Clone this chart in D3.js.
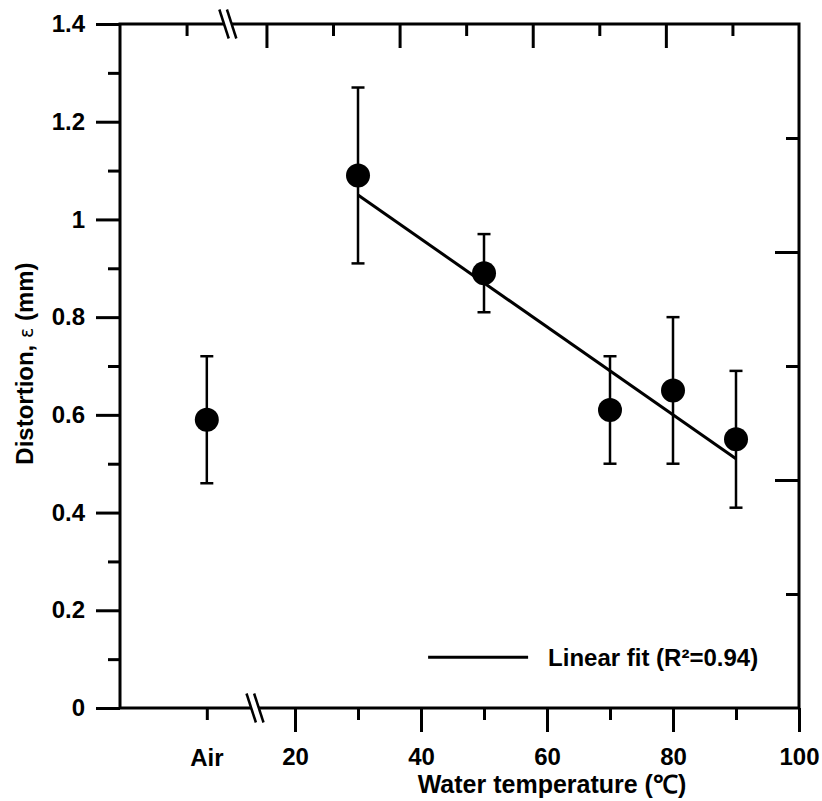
<!DOCTYPE html>
<html>
<head>
<meta charset="utf-8">
<script src="https://cdn.jsdelivr.net/npm/d3@7"></script>
<style>
  html, body { margin: 0; background: #fff; }
  svg { display: block; }
</style>
</head>
<body>
<div id="chart"></div>
<script>
const waterTemps = [30, 50, 70, 80, 90];
const distortion = [1.09, 0.89, 0.61, 0.65, 0.55];
const errLow = [0.91, 0.81, 0.50, 0.50, 0.41];
const errHigh = [1.27, 0.97, 0.72, 0.80, 0.69];

// the "Air" reference sits left of the axis break
const airLabel = 'Air';
const airSlot = 6;
const airValue = 0.59;
const airLow = 0.46;
const airHigh = 0.72;

// linear fit drawn from 30 to 90 degC
const fitTemps = [30, 90];
const fitValues = [1.05, 0.51];
const fitLabel = 'Linear fit (R\u00b2=0.94)';

const xMajorTicks = [20, 40, 60, 80, 100];
const xMinorTicks = [30, 50, 70, 90];
const xBreakAt = 13.65;
const yMajorTicks = [0, 0.2, 0.4, 0.6, 0.8, 1, 1.2, 1.4];
const yMinorTicks = [0.1, 0.3, 0.5, 0.7, 0.9, 1.1, 1.3];
// top and right axes come from the plotting program with their own spacing
const topMajorTicks = [2.2, 4.2, 6.2, 8.2];
const topMinorTicks = [1.0, 3.2, 5.2, 7.2, 9.2];
const topBreakAt = 1.62;
const rightMajorTicks = [1, 2];
const rightMinorTicks = [0.5, 1.5, 2.5];

const FONT = '"Liberation Sans", Arial, Helvetica, sans-serif';
const width = 822, height = 801;
const margin = { left: 120, top: 24, right: 23, bottom: 93 };
const W = width - margin.left - margin.right;
const H = height - margin.top - margin.bottom;
const majorLen = 24, minorLen = 12, lw = 3;

const x = d3.scaleLinear().domain([-7.78, 100]).range([0, W]);
const y = d3.scaleLinear().domain([0, 1.4]).range([H, 0]);
const xTop = d3.scaleLinear().domain([0, 10.2]).range([0, W]);
const yRight = d3.scaleLinear().domain([0, 3]).range([H, 0]);

const svg = d3.select('#chart').append('svg').attr('width', width).attr('height', height);
const g = svg.append('g').attr('transform', `translate(${margin.left},${margin.top})`);

function ticksAxis(axis, values, len) {
  return axis.tickValues(values).tickSize(len).tickSizeOuter(0).tickFormat('');
}
function cleanAxis(sel) {
  sel.select('.domain').remove();
  sel.selectAll('.tick line').attr('stroke', '#000').attr('stroke-width', lw);
}

// left axis: outward ticks with labels
g.append('g').call(ticksAxis(d3.axisLeft(y), yMinorTicks, minorLen)).call(cleanAxis);
const yAx = g.append('g').call(d3.axisLeft(y).tickValues(yMajorTicks).tickSize(majorLen).tickSizeOuter(0).tickPadding(11)
  .tickFormat(d => String(+d.toFixed(1)))).call(cleanAxis);
yAx.selectAll('.tick text').attr('font-family', FONT).attr('font-weight', 'bold').attr('font-size', 24).attr('fill', '#000');

// bottom axis: outward ticks
g.append('g').attr('transform', `translate(0,${H})`)
  .call(ticksAxis(d3.axisBottom(x), xMinorTicks.concat([airSlot]), minorLen)).call(cleanAxis);
const xAx = g.append('g').attr('transform', `translate(0,${H})`)
  .call(d3.axisBottom(x).tickValues(xMajorTicks).tickSize(majorLen).tickSizeOuter(0).tickPadding(16).tickFormat(d => String(d)))
  .call(cleanAxis);
xAx.selectAll('.tick text').attr('font-family', FONT).attr('font-weight', 'bold').attr('font-size', 24).attr('fill', '#000');
g.append('text').attr('x', x(airSlot)).attr('y', H + 58).attr('text-anchor', 'middle')
  .attr('font-family', FONT).attr('font-weight', 'bold').attr('font-size', 24).text(airLabel);

// top axis: inward ticks
g.append('g').call(ticksAxis(d3.axisTop(xTop), topMinorTicks, -minorLen)).call(cleanAxis);
g.append('g').call(ticksAxis(d3.axisTop(xTop), topMajorTicks, -majorLen)).call(cleanAxis);

// right axis: inward ticks
g.append('g').attr('transform', `translate(${W},0)`)
  .call(ticksAxis(d3.axisRight(yRight), rightMinorTicks, -minorLen - 1)).call(cleanAxis);
g.append('g').attr('transform', `translate(${W},0)`)
  .call(ticksAxis(d3.axisRight(yRight), rightMajorTicks, -majorLen)).call(cleanAxis);

// frame
g.append('rect').attr('x', 0).attr('y', 0).attr('width', W).attr('height', H)
  .attr('fill', 'none').attr('stroke', '#000').attr('stroke-width', lw);

// axis break marks
function axisBreak(cx, cy) {
  const half = 14.5, slant = 4.7, gap = 3.8;
  g.append('polygon')
    .attr('points', [[cx - gap - slant, cy - half], [cx + gap - slant, cy - half], [cx + gap + slant, cy + half], [cx - gap + slant, cy + half]].map(p => p.join(',')).join(' '))
    .attr('fill', '#fff');
  [-gap, gap].forEach(d => {
    g.append('line').attr('x1', cx + d - slant).attr('y1', cy - half).attr('x2', cx + d + slant).attr('y2', cy + half)
      .attr('stroke', '#000').attr('stroke-width', 2.5);
  });
}
axisBreak(x(xBreakAt), H);
axisBreak(xTop(topBreakAt), 0);

// fit line
const fitLine = d3.line().x(d => x(d[0])).y(d => y(d[1]));
g.append('path').datum(d3.zip(fitTemps, fitValues)).attr('d', fitLine)
  .attr('fill', 'none').attr('stroke', '#000').attr('stroke-width', lw);

// points with error bars
const points = waterTemps.map((t, i) => ({ pos: t, v: distortion[i], lo: errLow[i], hi: errHigh[i] }));
points.unshift({ pos: airSlot, v: airValue, lo: airLow, hi: airHigh });
const capHalf = 6.5;
const pts = g.append('g').selectAll('g').data(points).join('g');
pts.append('line').attr('x1', d => x(d.pos)).attr('x2', d => x(d.pos)).attr('y1', d => y(d.lo)).attr('y2', d => y(d.hi))
  .attr('stroke', '#000').attr('stroke-width', 2.5);
['lo', 'hi'].forEach(k => {
  pts.append('line').attr('x1', d => x(d.pos) - capHalf).attr('x2', d => x(d.pos) + capHalf)
    .attr('y1', d => y(d[k])).attr('y2', d => y(d[k])).attr('stroke', '#000').attr('stroke-width', 2.5);
});
pts.append('circle').attr('cx', d => x(d.pos)).attr('cy', d => y(d.v)).attr('r', 12).attr('fill', '#000');

// legend
const legX = x(57), legY = y(0.104);
g.append('line').attr('x1', legX - 100).attr('x2', legX).attr('y1', legY).attr('y2', legY)
  .attr('stroke', '#000').attr('stroke-width', lw);
g.append('text').attr('x', legX + 20).attr('y', legY + 9)
  .attr('font-family', FONT).attr('font-weight', 'bold').attr('font-size', 24).text(fitLabel);

// axis titles
svg.append('text').attr('x', 552).attr('y', 793).attr('text-anchor', 'middle')
  .attr('font-family', FONT).attr('font-weight', 'bold').attr('font-size', 25).text('Water temperature (\u2103)');
const yTitle = svg.append('text').attr('transform', `translate(33,${margin.top + y(0.705)}) rotate(-90)`)
  .attr('text-anchor', 'middle').attr('font-family', FONT).attr('font-weight', 'bold').attr('font-size', 24);
yTitle.append('tspan').text('Distortion, ');
yTitle.append('tspan').attr('font-weight', 'normal').attr('font-family', '"DejaVu Sans", sans-serif').attr('font-size', 19).text('\u03b5');
yTitle.append('tspan').text(' (mm)');
</script>
</body>
</html>
